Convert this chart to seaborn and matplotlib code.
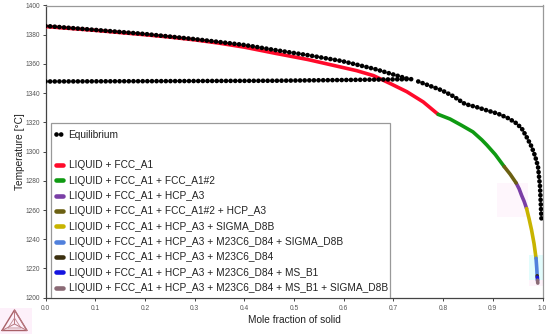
import matplotlib
matplotlib.use("Agg")
import matplotlib.pyplot as plt
from matplotlib.lines import Line2D
import seaborn as sns

# equilibrium curve
eq_low_x = [0.0, 0.2, 0.462, 0.6, 0.74]
eq_low_t = [1348, 1348.2, 1348.5, 1349, 1349.6]
eq_top_x = [0.0, 0.1, 0.2, 0.3, 0.4, 0.462, 0.528, 0.596, 0.663, 0.73]
eq_top_t = [1386, 1383.3, 1380.5, 1377, 1373, 1369.5, 1366, 1362, 1356.5, 1349.7]
eq_tail_x = [0.75, 0.797, 0.82, 0.844, 0.867, 0.89, 0.91, 0.93, 0.945, 0.958, 0.968, 0.978, 0.985, 0.991, 0.995, 0.998]
eq_tail_t = [1348, 1342, 1338, 1332.6, 1330.5, 1328, 1326, 1323, 1320, 1316, 1310, 1303.4, 1297, 1289.7, 1276, 1253]
edge_x = [1.0, 1.0]
edge_t = [1253, 1210]

# scheil segments
phase_names = [
    "LIQUID + FCC_A1",
    "LIQUID + FCC_A1 + FCC_A1#2",
    "LIQUID + FCC_A1 + HCP_A3",
    "LIQUID + FCC_A1 + FCC_A1#2 + HCP_A3",
    "LIQUID + FCC_A1 + HCP_A3 + SIGMA_D8B",
    "LIQUID + FCC_A1 + HCP_A3 + M23C6_D84 + SIGMA_D8B",
    "LIQUID + FCC_A1 + HCP_A3 + M23C6_D84",
    "LIQUID + FCC_A1 + HCP_A3 + M23C6_D84 + MS_B1",
    "LIQUID + FCC_A1 + HCP_A3 + M23C6_D84 + MS_B1 + SIGMA_D8B",
]
phase_colors = ["#ff0a2a", "#0f9a12", "#7a3fa6", "#6b6012", "#c8b400",
                "#5080dc", "#3b3010", "#1414e0", "#8a6a75"]
phase_x = [
    [0.0, 0.1, 0.2, 0.25, 0.3, 0.35, 0.4, 0.462, 0.528, 0.5925, 0.626, 0.66, 0.693, 0.727, 0.76, 0.79],
    [0.79, 0.814, 0.837, 0.86, 0.878, 0.888, 0.905, 0.923],
    [0.947, 0.953, 0.958, 0.963, 0.968],
    [0.923, 0.935, 0.947],
    [0.968, 0.973, 0.978, 0.983, 0.987],
    [0.987, 0.9885, 0.9893],
    [0.9893, 0.9896],
    [0.9896, 0.99],
    [0.99, 0.9905],
]
phase_t = [
    [1385.6, 1383, 1380, 1378.4, 1376.5, 1374.2, 1371.5, 1367.3, 1363, 1358, 1355.4, 1352, 1346.7, 1341, 1334, 1325.5],
    [1325.5, 1322.3, 1318, 1313.5, 1308, 1304.5, 1298, 1289.7],
    [1278.5, 1274.5, 1270, 1266, 1261],
    [1289.7, 1284.5, 1278.5],
    [1261, 1254, 1246.3, 1237, 1227],
    [1227, 1220, 1215],
    [1215, 1214],
    [1214, 1212],
    [1212, 1210],
]
y_ticks = [1200, 1220, 1240, 1260, 1280, 1300, 1320, 1340, 1360, 1380, 1400]
x_ticks = [0.0, 0.1, 0.2, 0.3, 0.4, 0.5, 0.6, 0.7, 0.8, 0.9, 1.0]

# pale boxes behind the end of the curve: x0, x1, t0, t1, colour
tint_boxes = [
    (0.908, 0.971, 1255.5, 1278.5, "#fef6fc"),
    (0.972, 1.0, 1212, 1229, "#e2fcfc"),
    (0.972, 1.0, 1207.8, 1212, "#fef4fb"),
]

DOTS = (0, (0.01, 0.97))

sns.set_style("ticks")
plt.rcParams["font.family"] = ["Liberation Sans", "DejaVu Sans"]

fig = plt.figure(figsize=(5.5, 3.34), dpi=100)
ax = fig.add_axes([45.5 / 550, 1 - 297.7 / 334, 497 / 550, 292.2 / 334])

for x0, x1, t0, t1, col in tint_boxes:
    ax.add_patch(plt.Rectangle((x0, t0), x1 - x0, t1 - t0, color=col, lw=0, zorder=1))

for xs, ts, name, col in zip(phase_x, phase_t, phase_names, phase_colors):
    sns.lineplot(x=xs, y=ts, color=col, lw=2.6, sort=False, estimator=None, ax=ax,
                 solid_capstyle="round", zorder=3, legend=False)

sns.lineplot(x=edge_x, y=edge_t, color="#eeb4d8", lw=0.8, sort=False, estimator=None, ax=ax, legend=False)
for xs, ts in [(eq_low_x, eq_low_t), (eq_top_x, eq_top_t), (eq_tail_x, eq_tail_t)]:
    sns.lineplot(x=xs, y=ts, color="black", lw=3.4, sort=False, estimator=None, ax=ax,
                 linestyle=DOTS, dash_capstyle="round", zorder=4, legend=False)

ax.set_xlim(0, 1)
ax.set_ylim(1200, 1400)
ax.set_xticks(x_ticks)
ax.set_yticks(y_ticks)
ax.tick_params(labelsize=4.8, labelcolor="#555555", length=2.5, width=0.7, color="#444444")
ax.tick_params(axis="x", pad=2.5)
ax.tick_params(axis="y", pad=1.5)
ax.set_xlabel("Mole fraction of solid", fontsize=7.3, color="#222222", labelpad=2.5)
ax.set_ylabel("Temperature [°C]", fontsize=7.3, color="#222222", labelpad=0.5)
for side in ["top", "right"]:
    ax.spines[side].set_visible(True)
    ax.spines[side].set_color("#999999")
    ax.spines[side].set_linewidth(0.9)
for side in ["left", "bottom"]:
    ax.spines[side].set_color("#444444")
    ax.spines[side].set_linewidth(0.9)

handles = [Line2D([], [], color="black", lw=3.4, linestyle=DOTS, dash_capstyle="round"),
           Line2D([], [], color="none")]
labels = ["Equilibrium", " "]
for name, col in zip(phase_names, phase_colors):
    handles.append(Line2D([], [], color=col, lw=3.3, solid_capstyle="round"))
    labels.append(name)
# frame drawn by hand, the legend's own frame comes out too short
ax.add_patch(plt.Rectangle((5.5 / 497, 0), 339 / 497, 175 / 292.2, transform=ax.transAxes,
                           facecolor="white", edgecolor="#999999", lw=0.9, zorder=4.5))
leg = ax.legend(handles, labels, loc="lower left", bbox_to_anchor=(5.5 / 497, 0.0),
                borderaxespad=0, fontsize=7.25, labelspacing=0.53, handlelength=0.75,
                handletextpad=0.55, borderpad=0.45, frameon=False, labelcolor="#222222")
leg.set_zorder(5)

# logo in the corner
logo = fig.add_axes([0, 0, 32 / 550, 26 / 334], facecolor="#fdf0fa")
logo.set_xlim(0, 32)
logo.set_ylim(0, 26)
logo.axis("off")
logo.add_patch(plt.Rectangle((0, 0), 32, 26, color="#fdf0fa", lw=0))
outer_x = [2, 14.5, 27, 2]
outer_y = [3.5, 24, 3.5, 3.5]
logo.plot(outer_x, outer_y, color="#a86068", lw=1.0)
logo.plot([2, 14.5, 14.5, 27], [3.5, 10, 24, 3.5], color="#b87880", lw=0.7)
logo.plot([14.5, 27], [10, 3.5], color="#b87880", lw=0.7)
logo.plot([8, 21, 14.5, 8], [6, 6, 16, 6], color="#c08890", lw=0.6)

fig.savefig("out.png", dpi=100)
